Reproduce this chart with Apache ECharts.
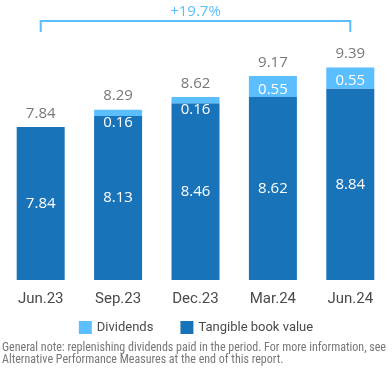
<!DOCTYPE html>
<html>
<head>
<meta charset="utf-8">
<script src="https://cdn.jsdelivr.net/npm/echarts@6/dist/echarts.min.js"></script>
<style>
  html, body { margin: 0; padding: 0; background: #fff; }
  #chart { width: 392px; height: 377px; }
</style>
</head>
<body>
<div id="chart"></div>
<script>
var categories = ['Jun.23', 'Sep.23', 'Dec.23', 'Mar.24', 'Jun.24'];
var tangibleBookValue = [7.84, 8.13, 8.46, 8.62, 8.84];
var dividends = [0, 0.16, 0.16, 0.55, 0.55];
var totals = [7.84, 8.29, 8.62, 9.17, 9.39];
var growthLabel = '+19.7%';
var noteLines = [
  'General note: replenishing dividends paid in the period. For more information, see',
  'Alternative Performance Measures at the end of this report.'
];

var darkBlue = '#1973b8';
var lightBlue = '#5bbeff';
var numFont = '"Open Sans", sans-serif';

// small dividends labels sit just under the segment, big ones inside it
var dividendData = dividends.map(function (v) {
  if (!v) return { value: v, label: { show: false } };
  if (v < 0.3) return { value: v, label: { position: 'bottom', distance: -1 } };
  return { value: v, label: { position: 'inside', offset: [0, 3] } };
});

var chart = echarts.init(document.getElementById('chart'));
var option = {
  animation: false,
  grid: { left: 2, right: 3, top: 44, bottom: 97 },
  legend: {
    top: 316,
    left: 'center',
    itemWidth: 13,
    itemHeight: 13,
    itemGap: 27,
    icon: 'rect',
    data: ['Dividends', 'Tangible book value'],
    textStyle: { color: '#4a4a4a', fontSize: 13, fontFamily: 'Roboto, sans-serif' }
  },
  xAxis: {
    type: 'category',
    data: categories,
    axisLine: { show: false },
    axisTick: { show: false },
    axisLabel: { margin: 12, color: '#4a4a4a', fontSize: 15, fontFamily: 'Roboto, sans-serif' }
  },
  yAxis: {
    type: 'value',
    show: false,
    min: 3.86,
    max: 10,
    splitLine: { show: false }
  },
  series: [
    {
      name: 'Tangible book value',
      type: 'bar',
      stack: 'tbv',
      barWidth: 48,
      itemStyle: { color: darkBlue },
      label: { show: true, position: 'inside', color: '#fff', fontSize: 15, fontWeight: 500, fontFamily: numFont },
      data: tangibleBookValue
    },
    {
      name: 'Dividends',
      type: 'bar',
      stack: 'tbv',
      barWidth: 48,
      itemStyle: { color: lightBlue },
      label: { show: true, color: '#fff', fontSize: 15, fontWeight: 500, fontFamily: numFont },
      data: dividendData
    },
    {
      name: 'total',
      type: 'scatter',
      symbolSize: 0,
      silent: true,
      label: {
        show: true, position: 'top', distance: 6,
        color: '#555', fontSize: 15, fontWeight: 500, fontFamily: numFont,
        formatter: function (p) { return p.value.toFixed(2); }
      },
      data: totals
    }
  ]
};
chart.setOption(option);

// bracket from first to last bar, plus the note under the legend
var x0 = chart.convertToPixel({ xAxisIndex: 0 }, categories[0]);
var x1 = chart.convertToPixel({ xAxisIndex: 0 }, categories[categories.length - 1]);
chart.setOption({
  graphic: [
    {
      type: 'polyline',
      shape: { points: [[x0, 32], [x0, 21], [x1, 21], [x1, 32]] },
      style: { stroke: lightBlue, lineWidth: 2, fill: null }
    },
    {
      type: 'text',
      x: (x0 + x1) / 2, y: 12,
      style: {
        text: growthLabel, fill: lightBlue, fontSize: 15, fontFamily: numFont,
        align: 'center', verticalAlign: 'middle'
      }
    },
    {
      type: 'text',
      left: 2, top: 342,
      style: {
        text: noteLines.join('\n'), fill: '#777', fontSize: 12, lineHeight: 12,
        fontFamily: '"Liberation Sans Narrow", "Roboto Condensed", Roboto, sans-serif'
      }
    }
  ]
});
</script>
</body>
</html>
